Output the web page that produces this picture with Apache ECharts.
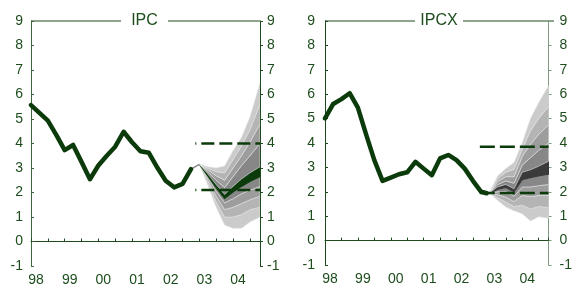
<!DOCTYPE html>
<html><head><meta charset="utf-8">
<script src="https://cdn.jsdelivr.net/npm/echarts@6/dist/echarts.min.js"></script>
<style>html,body{margin:0;padding:0;background:#fff}#c{width:575px;height:306px}</style>
</head><body><div id="c"></div>
<script>
const FONT = '"Liberation Sans", Arial, sans-serif';
const TXT = '#1d4d1d';
const DARK = '#0b3b0b';

// ---- data ----
const panelTitles = ['IPC', 'IPCX'];
const histX = [1998.0,1998.25,1998.5,1998.75,1999.0,1999.25,1999.5,1999.75,2000.0,2000.25,2000.5,2000.75,2001.0,2001.25,2001.5,2001.75,2002.0,2002.25,2002.5,2002.75,2002.92];
const ipcHist  = [5.57,5.25,4.93,4.35,3.73,3.94,3.25,2.54,3.1,3.5,3.87,4.48,4.05,3.68,3.62,3.02,2.48,2.21,2.35,2.95];
const ipcLink  = [2.95,3.15];            // thin grey link 2002.75 -> 2003.0
const linkX    = [2002.75,2003.0];
const ipcxHist = [5.01,5.6,5.8,6.04,5.45,4.35,3.3,2.45,2.58,2.72,2.8,3.23,2.95,2.68,3.37,3.51,3.3,2.95,2.45,2.0,1.94];

const fanX = [2003.0,2003.25,2003.5,2003.75,2004.0,2004.25,2004.5,2004.8];
// IPC fan edges (low -> high)
const ipcL4 = [3.15,2.3,1.4,0.67,0.54,0.54,0.8,1.0];
const ipcL3 = [3.15,2.4,1.62,1.0,1.0,1.1,1.3,1.4];
const ipcL2 = [3.15,2.5,1.85,1.3,1.4,1.55,1.7,1.85];
const ipcL1 = [3.15,2.6,2.05,1.58,1.75,1.95,2.1,2.25];
const ipcCm = [3.15,2.68,2.2,1.76,2.02,2.25,2.45,2.65];
const ipcCp = [3.15,2.76,2.32,1.92,2.25,2.55,2.8,3.05];
const ipcU1 = [3.15,2.84,2.5,2.2,2.65,3.1,3.5,4.0];
const ipcU2 = [3.15,2.92,2.68,2.5,3.0,3.5,4.05,4.8];
const ipcU3 = [3.15,2.99,2.85,2.8,3.35,3.9,4.55,5.6];
const ipcU4 = [3.15,3.05,3.0,3.08,3.7,4.24,5.07,6.46];
// IPCX fan edges (low -> high)
const ipcxL4 = [1.95,1.65,1.38,1.22,1.1,0.8,0.98,0.92];
const ipcxL3 = [1.95,1.76,1.58,1.4,1.45,1.3,1.4,1.35];
const ipcxL2 = [1.95,1.88,1.78,1.6,1.85,1.8,1.85,1.85];
const ipcxL1 = [1.95,2.0,2.02,1.82,2.2,2.2,2.25,2.3];
const ipcxCm = [1.95,2.1,2.18,2.0,2.5,2.58,2.65,2.72];
const ipcxCp = [1.95,2.2,2.3,2.12,2.8,2.9,3.05,3.25];
const ipcxU1 = [1.95,2.3,2.45,2.35,3.1,3.4,3.7,4.0];
const ipcxU2 = [1.95,2.42,2.62,2.62,3.45,3.95,4.35,4.75];
const ipcxU3 = [1.95,2.55,2.8,2.92,3.75,4.5,5.0,5.5];
const ipcxU4 = [1.95,2.65,2.95,3.2,4.0,5.0,5.65,6.35];

const ipcTarget  = [2.1, 4.0];
const ipcxTarget = [1.95, 3.85];
const ipcTargetX  = [2002.88, 2004.8];
const ipcxTargetX = [2002.71, 2004.8];

// ---- build ----
const grids = [
  {left:31, top:21, width:229, height:245},
  {left:325, top:21, width:229, height:244}
];
const axisCols = [['#3f663f', '#1f4a1f'], ['#1f4a1f', '#7d9c7d']];

const xAxes = [], yAxes = [];
grids.forEach((g, gi) => {
  xAxes.push({
    gridIndex: gi, type: 'value', min: 1998, max: 2004.8, interval: 0.5,
    axisLine: {show: true, lineStyle: {color: '#1f4a1f', width: 1}},
    axisTick: {show: true, inside: true, length: 3, lineStyle: {color: '#1f4a1f'}},
    splitLine: {show: false},
    axisLabel: {
      fontFamily: FONT, fontSize: 14, color: TXT, margin: 7, padding: [0,0,0,10],
      formatter: v => (Math.abs(v - Math.round(v)) < 1e-6 && v < 2004.8) ? String(Math.round(v)).slice(2) : ''
    }
  });
  ['left', 'right'].forEach((pos, pi) => {
    yAxes.push({
      gridIndex: gi, type: 'value', position: pos, min: -1, max: 9, interval: 1,
      axisLine: {show: true, lineStyle: {color: axisCols[gi][pi], width: 1}},
      axisTick: {show: true, inside: pi === 0, length: 3, lineStyle: {color: axisCols[gi][pi]}},
      splitLine: {show: false},
      axisLabel: {fontFamily: FONT, fontSize: 14, color: TXT, margin: pi === 0 ? (gi === 0 ? 8 : 10) : (gi === 0 ? 7 : 11)}
    });
  });
});

const series = [];
const grey = ['#cbcbcb', '#b4b4b4', '#9d9d9d', '#878787'];
function addFan(gi, edges, centralColor) {
  const colors = [grey[0], grey[1], grey[2], grey[3], centralColor, grey[3], grey[2], grey[1], grey[0]];
  series.push({
    type: 'custom', coordinateSystem: 'cartesian2d', xAxisIndex: gi, yAxisIndex: gi * 2,
    silent: true, z: 2, clip: true,
    data: colors.map((c, k) => [fanX[0], k]),
    renderItem: (params, api) => {
      const k = params.dataIndex;
      const lo = edges[k], hi = edges[k + 1];
      const top = fanX.map((x, i) => api.coord([x, hi[i]]));
      const bot = fanX.map((x, i) => api.coord([x, lo[i]])).reverse();
      const central = (k === 4);
      return {
        type: 'polygon',
        shape: {points: top.concat(bot)},
        style: {fill: colors[k], stroke: central ? centralColor : '#e0e0e0', lineWidth: central ? 1.2 : 0.6}
      };
    }
  });
}
addFan(0, [ipcL4, ipcL3, ipcL2, ipcL1, ipcCm, ipcCp, ipcU1, ipcU2, ipcU3, ipcU4], DARK);
addFan(1, [ipcxL4, ipcxL3, ipcxL2, ipcxL1, ipcxCm, ipcxCp, ipcxU1, ipcxU2, ipcxU3, ipcxU4], '#3a3a3a');

function addTarget(gi, tx, vals, dash, offset) {
  vals.forEach(v => series.push({
    type: 'line', xAxisIndex: gi, yAxisIndex: gi * 2, symbol: 'none', silent: true, z: 4,
    lineStyle: {color: DARK, width: 2.5, type: dash, dashOffset: offset},
    data: tx.map(x => [x, v])
  }));
}
addTarget(0, ipcTargetX, ipcTarget, [13, 5], 12);
addTarget(1, ipcxTargetX, ipcxTarget, [15, 5], 0);

series.push({
  type: 'line', xAxisIndex: 0, yAxisIndex: 0, symbol: 'none', silent: true, z: 5,
  lineStyle: {color: '#8a8a8a', width: 1.5}, data: linkX.map((x, i) => [x, ipcLink[i]])
});
series.push({
  type: 'line', xAxisIndex: 0, yAxisIndex: 0, symbol: 'none', silent: true, z: 6,
  lineStyle: {color: DARK, width: 4.5, cap: 'round', join: 'round'},
  data: ipcHist.map((v, i) => [histX[i], v])
});
series.push({
  type: 'line', xAxisIndex: 1, yAxisIndex: 2, symbol: 'none', silent: true, z: 6,
  lineStyle: {color: DARK, width: 4.5, cap: 'round', join: 'round'},
  data: ipcxHist.map((v, i) => [histX[i], v])
});

const graphic = [
  {type: 'text', left: 237, top: -19.5, silent: true,
   style: {text: '(porcentaje)', font: '20px ' + FONT, fill: TXT}},
  {type: 'line', silent: true, shape: {x1: 31, y1: 21, x2: 121, y2: 21}, style: {stroke: '#1f4a1f', lineWidth: 1}},
  {type: 'line', silent: true, shape: {x1: 168, y1: 21, x2: 260, y2: 21}, style: {stroke: '#1f4a1f', lineWidth: 1}},
  {type: 'text', x: 144.5, y: 21, silent: true,
   style: {text: panelTitles[0], font: '16px ' + FONT, fill: TXT, align: 'center', verticalAlign: 'middle'}},
  {type: 'line', silent: true, shape: {x1: 325, y1: 21, x2: 415, y2: 21}, style: {stroke: '#1f4a1f', lineWidth: 1}},
  {type: 'line', silent: true, shape: {x1: 463, y1: 21, x2: 554, y2: 21}, style: {stroke: '#1f4a1f', lineWidth: 1}},
  {type: 'text', x: 439, y: 21, silent: true,
   style: {text: panelTitles[1], font: '16px ' + FONT, fill: TXT, align: 'center', verticalAlign: 'middle'}}
];

const chart = echarts.init(document.getElementById('c'), null, {renderer: 'canvas'});
chart.setOption({
  animation: false,
  backgroundColor: '#fff',
  textStyle: {fontFamily: FONT},
  grid: grids,
  xAxis: xAxes,
  yAxis: yAxes,
  series: series,
  graphic: graphic
});
</script></body></html>
